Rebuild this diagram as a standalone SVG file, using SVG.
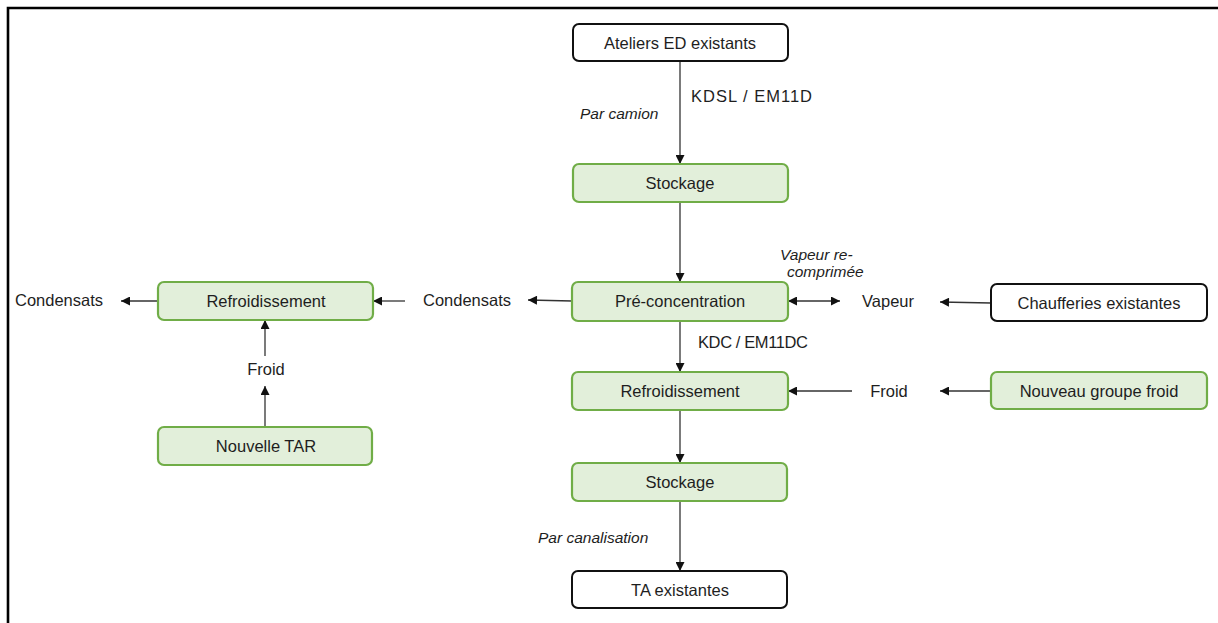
<svg xmlns="http://www.w3.org/2000/svg" width="1218" height="623" viewBox="0 0 1218 623">
  <style>
    .box { fill: #ffffff; stroke: #111111; stroke-width: 2; }
    .proc { fill: #e2efda; stroke: #70ad47; stroke-width: 2.2; }
    .lbl { font-family: "Liberation Sans", Arial, sans-serif; font-size: 16.5px; fill: #1e1e1e; text-anchor: middle; dominant-baseline: central; }
    .note { font-family: "Liberation Sans", Arial, sans-serif; font-size: 15.5px; font-style: italic; fill: #1e1e1e; dominant-baseline: central; }
    .wire { stroke: #333333; stroke-width: 1.3; fill: none; }
  </style>
  <defs>
    <marker id="arrow" viewBox="0 0 10 10" refX="10" refY="5" markerWidth="10" markerHeight="9" markerUnits="userSpaceOnUse" orient="auto-start-reverse">
      <path d="M0,0 L10,5 L0,10 z" fill="#111111"/>
    </marker>
  </defs>
  <rect width="1218" height="623" fill="#ffffff"/>
  <!-- frame -->
  <path d="M8,623 V8 H1218" fill="none" stroke="#000000" stroke-width="2.6"/>

  <!-- connectors -->
  <g id="connectors">
    <line class="wire" x1="680" y1="61" x2="680" y2="164" marker-end="url(#arrow)"/>
    <line class="wire" x1="680" y1="202" x2="680" y2="282" marker-end="url(#arrow)"/>
    <line class="wire" x1="680" y1="321" x2="680" y2="372" marker-end="url(#arrow)"/>
    <line class="wire" x1="680" y1="410" x2="680" y2="463" marker-end="url(#arrow)"/>
    <line class="wire" x1="680" y1="501" x2="680" y2="571" marker-end="url(#arrow)"/>
    <line class="wire" x1="572" y1="301" x2="528" y2="300" marker-end="url(#arrow)"/>
    <line class="wire" x1="405" y1="301" x2="373" y2="301" marker-end="url(#arrow)"/>
    <line class="wire" x1="158" y1="301" x2="121" y2="301" marker-end="url(#arrow)"/>
    <line class="wire" x1="265" y1="356" x2="265" y2="320" marker-end="url(#arrow)"/>
    <line class="wire" x1="265" y1="427" x2="265" y2="386" marker-end="url(#arrow)"/>
    <line class="wire" x1="788" y1="301" x2="840" y2="301" marker-start="url(#arrow)" marker-end="url(#arrow)"/>
    <line class="wire" x1="991" y1="303" x2="940" y2="302" marker-end="url(#arrow)"/>
    <line class="wire" x1="852" y1="391" x2="788" y2="391" marker-end="url(#arrow)"/>
    <line class="wire" x1="991" y1="391" x2="940" y2="391" marker-end="url(#arrow)"/>
  </g>

  <!-- flow labels -->
  <g id="labels">
    <text class="lbl" x="691" y="96" style="text-anchor:start" textLength="121" lengthAdjust="spacing">KDSL / EM11D</text>
    <text class="note" x="580" y="113">Par camion</text>
    <text class="note" x="780" y="254">Vapeur re-</text>
    <text class="note" x="787" y="271">comprimée</text>
    <text class="lbl" x="698" y="342" style="text-anchor:start" textLength="110" lengthAdjust="spacing">KDC / EM11DC</text>
    <text class="note" x="538" y="537">Par canalisation</text>
  </g>

  <!-- stream nodes (plain text) -->
  <g id="condensats-left"><text class="lbl" x="59" y="300">Condensats</text></g>
  <g id="condensats-mid"><text class="lbl" x="467" y="300">Condensats</text></g>
  <g id="vapeur"><text class="lbl" x="888" y="301">Vapeur</text></g>
  <g id="froid-right"><text class="lbl" x="889" y="391">Froid</text></g>
  <g id="froid-left"><text class="lbl" x="266" y="369">Froid</text></g>

  <!-- process nodes -->
  <g id="ateliers">
    <rect class="box" x="573" y="24" width="215" height="37" rx="6"/>
    <text class="lbl" x="680" y="43">Ateliers ED existants</text>
  </g>
  <g id="stockage-1">
    <rect class="proc" x="573" y="164" width="215" height="38" rx="6"/>
    <text class="lbl" x="680" y="183">Stockage</text>
  </g>
  <g id="pre-concentration">
    <rect class="proc" x="572" y="282" width="216" height="39" rx="6"/>
    <text class="lbl" x="680" y="301">Pré-concentration</text>
  </g>
  <g id="refroidissement-centre">
    <rect class="proc" x="572" y="372" width="216" height="38" rx="6"/>
    <text class="lbl" x="680" y="391">Refroidissement</text>
  </g>
  <g id="stockage-2">
    <rect class="proc" x="572" y="463" width="215" height="38" rx="6"/>
    <text class="lbl" x="680" y="482">Stockage</text>
  </g>
  <g id="ta-existantes">
    <rect class="box" x="572" y="571" width="215" height="37" rx="6"/>
    <text class="lbl" x="680" y="590">TA existantes</text>
  </g>
  <g id="refroidissement-gauche">
    <rect class="proc" x="158" y="282" width="215" height="38" rx="6"/>
    <text class="lbl" x="266" y="301">Refroidissement</text>
  </g>
  <g id="nouvelle-tar">
    <rect class="proc" x="158" y="427" width="214" height="38" rx="6"/>
    <text class="lbl" x="266" y="446">Nouvelle TAR</text>
  </g>
  <g id="chaufferies">
    <rect class="box" x="991" y="284" width="216" height="37" rx="6"/>
    <text class="lbl" x="1099" y="303">Chaufferies existantes</text>
  </g>
  <g id="groupe-froid">
    <rect class="proc" x="991" y="372" width="216" height="37" rx="6"/>
    <text class="lbl" x="1099" y="391">Nouveau groupe froid</text>
  </g>
</svg>
